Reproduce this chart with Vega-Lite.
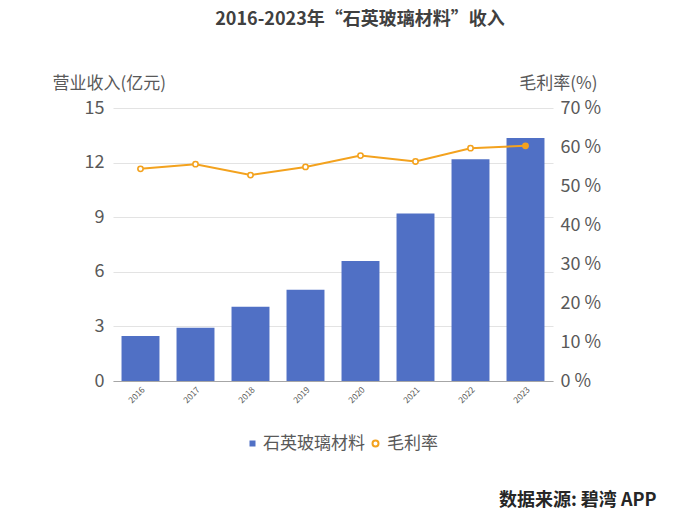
{
  "$schema": "https://vega.github.io/schema/vega-lite/v6.json",
  "autosize": {"type": "none"},
  "width": 440,
  "height": 273,
  "padding": {"left": 113, "top": 108, "right": 120, "bottom": 141},
  "background": "#ffffff",
  "title": {
    "text": "2016-2023年“石英玻璃材料”收入",
    "font": "Noto Sans CJK SC",
    "fontSize": 18,
    "fontWeight": "bold",
    "color": "#404040",
    "anchor": "middle",
    "dx": 27,
    "offset": 45
  },
  "config": {
    "view": {"stroke": null},
    "font": "Noto Sans CJK SC",
    "axis": {"labelFont": "Noto Sans CJK SC", "titleFont": "Noto Sans CJK SC"},
    "legend": {"labelFont": "Noto Sans CJK SC"}
  },
  "data": {
    "values": [
      {"year": "2016", "revenue": 2.47, "margin": 54.4},
      {"year": "2017", "revenue": 2.93, "margin": 55.6},
      {"year": "2018", "revenue": 4.08, "margin": 52.8},
      {"year": "2019", "revenue": 5.02, "margin": 54.9},
      {"year": "2020", "revenue": 6.6, "margin": 57.8},
      {"year": "2021", "revenue": 9.21, "margin": 56.3},
      {"year": "2022", "revenue": 12.18, "margin": 59.7},
      {"year": "2023", "revenue": 13.35, "margin": 60.3}
    ]
  },
  "encoding": {
    "x": {
      "field": "year",
      "type": "nominal",
      "scale": {"paddingInner": 0.31, "paddingOuter": 0.155},
      "axis": {
        "title": "数据来源: 碧湾 APP",
        "titleFontSize": 18,
        "titleFontWeight": "bold",
        "titleColor": "#262626",
        "titleAlign": "right",
        "titleX": 543,
        "titleY": 119,
        "titleBaseline": "middle",
        "labelAngle": -45,
        "labelFontSize": 8.5,
        "labelColor": "#595959",
        "labelPadding": 4,
        "ticks": false,
        "domainColor": "#a6a6a6",
        "domainWidth": 1
      }
    }
  },
  "layer": [
    {
      "mark": {"type": "bar"},
      "encoding": {
        "y": {
          "field": "revenue",
          "type": "quantitative",
          "scale": {"domain": [0, 15], "nice": false},
          "axis": {
            "title": "营业收入(亿元)",
            "titleAngle": 0,
            "titleAlign": "left",
            "titleBaseline": "middle",
            "titleX": -61,
            "titleY": -25,
            "titleFontSize": 17,
            "titleFontWeight": "normal",
            "titleColor": "#595959",
            "values": [0, 3, 6, 9, 12, 15],
            "labelFontSize": 18,
            "labelColor": "#595959",
            "labelPadding": 9,
            "ticks": false,
            "domain": false,
            "grid": true,
            "gridColor": "#e3e3e3"
          }
        },
        "fill": {
          "datum": "石英玻璃材料",
          "scale": {"domain": ["石英玻璃材料"], "range": ["#5070C5"]},
          "legend": {
            "title": null,
            "orient": "none",
            "direction": "horizontal",
            "legendX": 131,
            "legendY": 327,
            "labelFontSize": 17,
            "labelColor": "#595959",
            "symbolType": "square",
            "symbolSize": 36,
            "labelOffset": 2
          }
        }
      }
    },
    {
      "mark": {"type": "line", "strokeWidth": 2},
      "encoding": {
        "y": {
          "field": "margin",
          "type": "quantitative",
          "scale": {"domain": [0, 70], "nice": false},
          "axis": {
            "orient": "right",
            "title": "毛利率(%)",
            "titleAngle": 0,
            "titleAlign": "right",
            "titleBaseline": "middle",
            "titleX": 44,
            "titleY": -25,
            "titleFontSize": 17,
            "titleFontWeight": "normal",
            "titleColor": "#595959",
            "values": [0, 10, 20, 30, 40, 50, 60, 70],
            "labelExpr": "datum.value + ' %'",
            "labelFontSize": 18,
            "labelColor": "#595959",
            "labelPadding": 7,
            "ticks": false,
            "domain": false,
            "grid": false
          }
        },
        "stroke": {
          "datum": "毛利率",
          "scale": {"domain": ["毛利率"], "range": ["#F3A21E"]},
          "legend": {
            "title": null,
            "orient": "none",
            "direction": "horizontal",
            "legendX": 254,
            "legendY": 327,
            "labelFontSize": 17,
            "labelColor": "#595959",
            "symbolType": "circle",
            "symbolSize": 36,
            "symbolStrokeWidth": 2,
            "symbolFillColor": "#ffffff",
            "labelOffset": 3
          }
        }
      }
    },
    {
      "mark": {"type": "point", "size": 28, "strokeWidth": 1.6, "opacity": 1},
      "encoding": {
        "y": {"field": "margin", "type": "quantitative", "scale": {"domain": [0, 70], "nice": false}, "axis": null},
        "stroke": {"datum": "毛利率"},
        "fill": {"condition": {"test": "datum.year == '2023'", "value": "#F3A21E"}, "value": "#ffffff"}
      }
    }
  ],
  "resolve": {"scale": {"y": "independent"}}
}
